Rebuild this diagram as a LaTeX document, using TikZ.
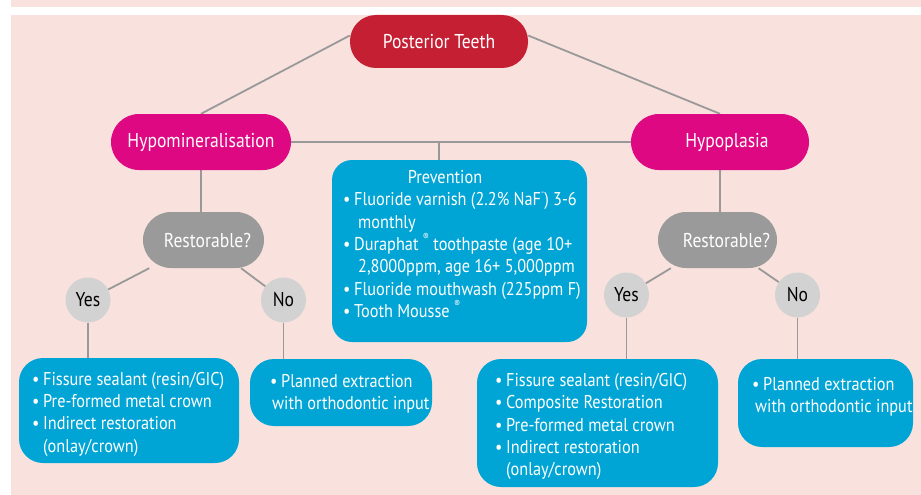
\documentclass[tikz,border=0pt]{standalone}
\usepackage{fontspec}
\setmainfont{PT Sans}[FakeStretch=0.88]
\definecolor{bgpink}{HTML}{F9E2DD}
\definecolor{ptred}{HTML}{C41F33}
\definecolor{magent}{HTML}{DE0883}
\definecolor{restgray}{HTML}{9A9A9A}
\definecolor{circgray}{HTML}{D1D2D1}
\definecolor{boxblue}{HTML}{00A5D5}
\definecolor{linegray}{HTML}{999999}
\newcommand{\bl}{\makebox[11pt][l]{\textbullet}}
\newcommand{\smallsup}[1]{\raisebox{0.55em}{\fontsize{10}{10}\selectfont #1}}
\pgfdeclarelayer{bgzero}
\pgfdeclarelayer{lines}
\pgfsetlayers{bgzero,lines,main}
\tikzset{
  conn/.style={draw=linegray, line width=1.8pt},
  pill/.style={inner sep=0pt, text=white, font=\fontsize{20}{22}\selectfont},
  yesno/.style={circle, fill=circgray, inner sep=0pt, minimum size=45pt, text=black, font=\fontsize{20}{22}\selectfont},
  bluebox/.style={fill=boxblue, rounded corners=24pt, inner sep=0pt},
  listtext/.style={inner sep=0pt, text=white, align=left, font=\fontsize{18.5}{22.3}\selectfont}
}
\begin{document}
\begin{tikzpicture}[x=1pt,y=-1pt]
\useasboundingbox (0,0) rectangle (921,495);
\begin{pgfonlayer}{bgzero}
\fill[white] (0,0) rectangle (921,495);
\fill[bgpink] (11,0) rectangle (921,7.5);
\fill[bgpink] (11,15) rectangle (921,495);
\end{pgfonlayer}

% top-level nodes
\node[pill, fill=ptred, rounded corners=26pt, minimum width=178pt, minimum height=53pt] (pt) at (439,41.5) {Posterior Teeth};
\node[pill, fill=magent, rounded corners=28pt, minimum width=180pt, minimum height=56pt] (hm) at (201,142) {Hypomineralisation};
\node[pill, fill=magent, rounded corners=28pt, minimum width=178pt, minimum height=56pt] (hp) at (720,142) {\hspace*{14pt}Hypoplasia};
\node[pill, fill=restgray, rounded corners=28pt, minimum width=121pt, minimum height=56pt] (rl) at (203.5,240) {\hspace*{8pt}Restorable?};
\node[pill, fill=restgray, rounded corners=28pt, minimum width=119pt, minimum height=56pt] (rr) at (717.5,240) {\hspace*{18pt}Restorable?};

\node[yesno] (yl) at (88,300) {Yes};
\node[yesno] (nl) at (283.5,300) {No};
\node[yesno] (yr) at (626.5,295) {Yes};
\node[yesno] (nr) at (797.5,295) {No};

% blue boxes
\node[bluebox, rounded corners=20pt, minimum width=255pt, minimum height=182pt] (prev) at (459.5,251) {};
\node[bluebox, minimum width=220pt, minimum height=105pt] (lb1) at (129,410.5) {};
\node[bluebox, minimum width=182pt, minimum height=67pt] (lb2) at (341,392.5) {};
\node[bluebox, minimum width=241pt, minimum height=128pt] (rb1) at (597.5,423) {};
\node[bluebox, minimum width=175pt, minimum height=88pt] (rb2) at (825.5,403) {};

% texts in boxes
\node[listtext] (prevt) at (445,177) {Prevention};
\node[listtext, anchor=west] (prevl) at (343,255) {\bl Fluoride varnish (2.2\% NaF\smallsup{-}) 3-6\\
\hspace*{15pt}monthly\\
\bl Duraphat \smallsup{®} toothpaste (age 10+\\
\hspace*{15pt}2,8000ppm, age 16+ 5,000ppm\\
\bl Fluoride mouthwash (225ppm F)\\
\bl Tooth Mousse \smallsup{®}};
\node[listtext, anchor=west] (lb1t) at (32,414) {\bl Fissure sealant (resin/GIC)\\
\bl Pre-formed metal crown\\
\bl Indirect restoration\\
\hspace*{11pt}(onlay/crown)};
\node[listtext, anchor=west] (lb2t) at (270,394) {\bl Planned extraction\\
\hspace*{2pt}with orthodontic input};
\node[listtext, anchor=west] (rb1t) at (495,426.5) {\bl Fissure sealant (resin/GIC)\\
\bl Composite Restoration\\
\bl Pre-formed metal crown\\
\bl Indirect restoration\\
\hspace*{11pt}(onlay/crown)};
\node[listtext, anchor=west] (rb2t) at (752,397) {\bl Planned extraction\\
\hspace*{3pt}with orthodontic input};

% connectors
\begin{pgfonlayer}{lines}
\draw[conn] ([yshift=6pt]pt.west) -- (hm.north);
\draw[conn] ([yshift=6pt]pt.east) -- (hp.north);
\draw[conn] (hm.east) -- (hp.west);
\draw[conn] (pt |- hm.east) -- (pt |- prev.north);
\draw[conn] (hm.south) -- (rl.north -| hm.south);
\draw[conn] (hp.south) -- (rr.north -| hp.south);
\draw[conn] (rl) -- (yl);
\draw[conn] (rl) -- (nl);
\draw[conn] (rr) -- (yr);
\draw[conn] (rr) -- (nr);
\draw[conn] (yl.south) -- (yl.south |- lb1.north);
\draw[conn] (nl.south) -- (nl.south |- lb2.north);
\draw[conn] (yr.south) -- (yr.south |- rb1.north);
\draw[conn] (nr.south) -- (nr.south |- rb2.north);
\end{pgfonlayer}
\end{tikzpicture}
\end{document}
